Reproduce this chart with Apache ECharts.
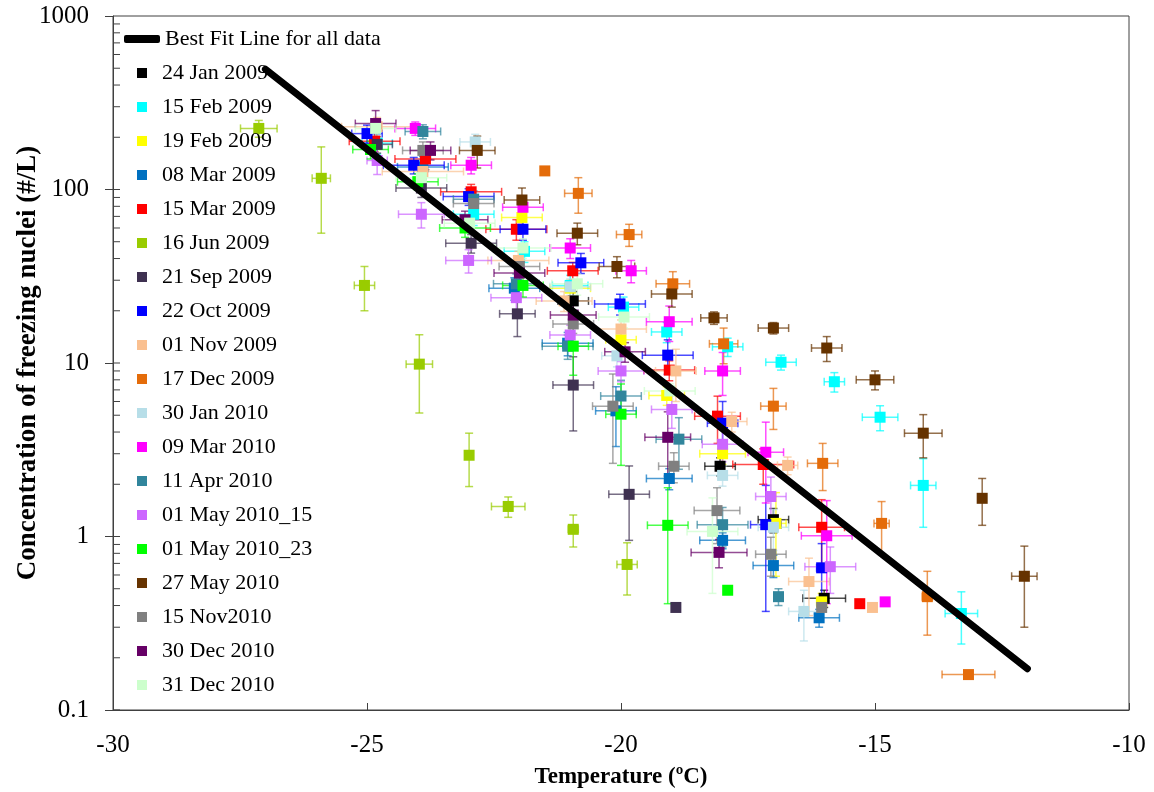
<!DOCTYPE html>
<html>
<head>
<meta charset="utf-8">
<script src="https://cdn.jsdelivr.net/npm/echarts@6/dist/echarts.min.js"></script>
<style>
  html, body { margin: 0; padding: 0; background: #fff; }
  #main { width: 1154px; height: 792px; }
</style>
</head>
<body>
<div id="main"></div>
<script>
// each point: [temperature, concentration, temperature error, concentration error]
const jan24_2009 = [[-20.94, 22.8, 0.3, 3], [-18.05, 2.54, 0.3, 0.3], [-17.0, 1.25, 0.3, 0.2], [-16.0, 0.44, 0.42, 0.05]];
const feb15_2009 = [[-24.8, 185, 0.3, 25], [-22.9, 72, 0.4, 10], [-21.9, 44, 0.4, 6], [-21.0, 28, 0.35, 4], [-19.95, 21, 0.3, 3],
  [-19.1, 15.1, 0.3, 2], [-17.9, 12.4, 0.3, 1.5], [-16.85, 10.1, 0.3, 1.0], [-15.8, 7.8, 0.2, 1.0], [-14.9, 4.87, 0.35, 0.8],
  [-14.05, 1.97, 0.25, 0.84], [-13.3, 0.36, 0.32, 0.12]];
const feb19_2009 = [[-21.95, 69, 0.4, 8], [-21.0, 27, 0.4, 3], [-20.0, 13.6, 0.3, 1.5], [-19.1, 6.5, 0.35, 0.8], [-18.0, 3.0, 0.45, 0.4],
  [-16.95, 1.19, 0.2, 0.6], [-16.05, 0.42, 0.1, 0.05]];
const mar08_2009 = [[-23.9, 135, 0.5, 20], [-22.1, 27, 0.5, 4], [-21.05, 13, 0.5, 2], [-20.1, 5.3, 0.4, 2], [-19.05, 2.16, 0.45, 0.3],
  [-18.0, 0.95, 0.45, 0.1], [-17.0, 0.68, 0.4, 0.1], [-16.1, 0.34, 0.4, 0.04]];
const mar15_2009 = [[-24.85, 190, 0.5, 25], [-23.85, 150, 0.6, 20], [-22.95, 97, 0.6, 10], [-22.06, 59, 0.6, 8], [-20.95, 34, 0.5, 4],
  [-19.05, 9.1, 0.5, 1.2], [-18.1, 4.94, 0.45, 1.5], [-17.2, 2.6, 0.6, 0.6], [-16.05, 1.13, 0.45, 0.5], [-15.3, 0.41, 0, 0]];
const jun16_2009 = [[-27.13, 225, 0.36, 25], [-25.9, 116, 0.18, 60], [-25.05, 28, 0.2, 8], [-23.97, 9.85, 0.26, 4.7], [-22.99, 2.94, 0.05, 1.0],
  [-22.22, 1.49, 0.33, 0.2], [-20.94, 1.1, 0.1, 0.23], [-19.88, 0.69, 0.2, 0.23]];
const sep21_2009 = [[-24.8, 182, 0.3, 20], [-23.93, 102, 0.5, 12], [-22.95, 49, 0.5, 6], [-22.04, 19.2, 0.35, 5], [-20.94, 7.46, 0.4, 3.4],
  [-19.84, 1.75, 0.4, 0.8], [-18.92, 0.39, 0, 0]];
const oct22_2009 = [[-25.0, 210, 0.3, 25], [-24.08, 138, 0.6, 15], [-23.0, 91, 0.5, 10], [-21.93, 59, 0.45, 8], [-20.79, 37.8, 0.45, 5],
  [-20.02, 21.9, 0.5, 3], [-19.08, 11.1, 0.5, 2.5], [-18.0, 4.5, 0.3, 1.5], [-17.15, 1.17, 0.3, 0.8], [-16.05, 0.66, 0.1, 0.25]];
const nov01_2009 = [[-24.8, 230, 0.7, 30], [-23.9, 127, 0.8, 15], [-22.02, 39, 0.6, 5], [-21.12, 22.8, 0.55, 3], [-20.0, 15.7, 0.5, 2],
  [-18.92, 9.0, 0.4, 3], [-17.82, 4.6, 0.3, 0.6], [-16.72, 2.57, 0.2, 0.3], [-16.3, 0.55, 0.4, 0.2], [-15.05, 0.39, 0, 0]];
const dec17_2009 = [[-21.5, 128, 0, 0], [-20.84, 95, 0.27, 22], [-19.84, 55, 0.25, 8], [-18.98, 28.6, 0.33, 5], [-17.98, 12.9, 0.28, 3],
  [-17.0, 5.64, 0.25, 1.5], [-16.03, 2.64, 0.3, 0.8], [-14.87, 1.19, 0.15, 0.4], [-13.97, 0.45, 0.1, 0.18], [-13.16, 0.16, 0.52, 0]];
const jan30_2010 = [[-22.87, 188, 0.3, 20], [-21.0, 27.5, 0.4, 3], [-20.08, 11, 0.3, 1.5], [-18.0, 2.25, 0.3, 0.3], [-17.0, 1.13, 0.3, 0.3],
  [-16.4, 0.37, 0.3, 0.12]];
const mar09_2010 = [[-24.05, 225, 0.4, 20], [-22.95, 138, 0.4, 15], [-21.93, 79, 0.4, 10], [-21.0, 46, 0.4, 6], [-19.8, 34, 0.3, 5],
  [-19.05, 17.3, 0.45, 4], [-18.0, 9.0, 0.35, 2.5], [-17.15, 3.06, 0.35, 1.5], [-15.95, 1.01, 0.5, 0.6], [-14.8, 0.42, 0, 0]];
const apr11_2010 = [[-23.9, 216, 0.35, 20], [-22.9, 88, 0.4, 10], [-22.06, 28.6, 0.45, 4], [-21.05, 12.5, 0.5, 2], [-20.0, 6.45, 0.4, 1.5],
  [-18.86, 3.64, 0.45, 1.2], [-18.0, 1.17, 0.5, 0.3], [-16.9, 0.45, 0, 0.05]];
const may01_2010_15 = [[-24.8, 147, 0.2, 25], [-23.93, 72, 0.45, 12], [-23.0, 39, 0.45, 6], [-22.06, 23.8, 0.5, 5], [-21.0, 14.5, 0.4, 2],
  [-20.0, 9.0, 0.45, 1.2], [-19.0, 5.4, 0.4, 1.2], [-18.0, 3.4, 0.4, 0.7], [-17.05, 1.7, 0.3, 0.5], [-15.88, 0.67, 0.5, 0.2]];
const may01_2010_23 = [[-24.93, 170, 0.35, 20], [-24.0, 111, 0.4, 12], [-23.07, 60, 0.5, 7], [-21.93, 28, 0.4, 4], [-20.94, 12.5, 0.3, 4],
  [-20.0, 5.07, 0.3, 2.5], [-19.08, 1.16, 0.4, 0.75], [-17.9, 0.49, 0, 0]];
const may27_2010 = [[-22.83, 168, 0.35, 35], [-21.95, 87, 0.35, 15], [-20.86, 56, 0.4, 8], [-20.08, 36, 0.35, 5], [-19.0, 25, 0.4, 4],
  [-18.17, 18.2, 0.26, 1.5], [-17.0, 15.9, 0.3, 1.2], [-15.95, 12.2, 0.3, 2], [-15.0, 8.0, 0.37, 1], [-14.05, 3.94, 0.37, 1.1],
  [-12.89, 1.66, 0, 0.5], [-12.06, 0.59, 0.25, 0.29]];
const nov15_2010 = [[-23.9, 168, 0.4, 20], [-22.9, 83, 0.4, 10], [-22.0, 36, 0.4, 5], [-20.94, 16.8, 0.4, 2], [-20.16, 5.64, 0.4, 3],
  [-18.96, 2.54, 0.3, 0.5], [-18.11, 1.41, 0.45, 0.5], [-17.05, 0.79, 0.3, 0.2], [-16.05, 0.39, 0, 0]];
const dec30_2010 = [[-24.83, 240, 0.4, 45], [-23.75, 168, 0.4, 20], [-23.07, 67, 0.45, 8], [-22.0, 33, 0.5, 5], [-20.94, 18.9, 0.45, 3],
  [-19.92, 11.6, 0.4, 1.5], [-19.08, 3.73, 0.45, 1.5], [-18.07, 0.81, 0.55, 0.15]];
const dec31_2010 = [[-24.83, 225, 0.4, 25], [-23.93, 117, 0.5, 15], [-22.98, 64, 0.5, 8], [-21.93, 46, 0.55, 6], [-20.86, 28.6, 0.5, 4],
  [-19.94, 18.4, 0.5, 2.5], [-19.04, 6.9, 0.5, 0.7], [-18.2, 1.07, 0.5, 0.6]];

const seriesNames = ['24 Jan 2009', '15 Feb 2009', '19 Feb 2009', '08 Mar 2009', '15 Mar 2009', '16 Jun 2009',
  '21 Sep 2009', '22 Oct 2009', '01 Nov 2009', '17 Dec 2009', '30 Jan 2010', '09 Mar 2010', '11 Apr 2010',
  '01 May 2010_15', '01 May 2010_23', '27 May 2010', '15 Nov2010', '30 Dec 2010', '31 Dec 2010'];
const seriesData = [jan24_2009, feb15_2009, feb19_2009, mar08_2009, mar15_2009, jun16_2009, sep21_2009, oct22_2009,
  nov01_2009, dec17_2009, jan30_2010, mar09_2010, apr11_2010, may01_2010_15, may01_2010_23, may27_2010,
  nov15_2010, dec30_2010, dec31_2010];
const seriesColors = ['#000000', '#00ffff', '#ffff00', '#0070c0', '#ff0000', '#99cc00', '#3f3151', '#0000ff',
  '#fac090', '#e46c0a', '#b7dee8', '#ff00ff', '#31859c', '#cc66ff', '#00ff00', '#663300', '#808080', '#660066', '#ccffcc'];

// best fit line end points
const fitName = 'Best Fit Line for all data';
const fitTemp = [-27, -12];
const fitConc = [494, 0.173];

// axis
const xTicks = [-30, -25, -20, -15, -10];
const yMin = 0.1, yMax = 1000;
const yMinorTicks = [];
for (let d = 0.1; d < yMax; d *= 10) {
  for (let k = 1; k <= 9; k++) yMinorTicks.push(+(d * k).toPrecision(3));
}

const FONT = 'Liberation Serif';

const chart = echarts.init(document.getElementById('main'));

// error bars, drawn with the axis scales
function errorBars(params, api) {
  const x = api.value(0), y = api.value(1), xe = api.value(2), ye = api.value(3);
  const color = api.visual('color');
  const cap = 4;
  const children = [];
  const style = { stroke: color, lineWidth: 1.5, opacity: 0.7 };
  if (xe > 0) {
    const a = api.coord([x - xe, y]), b = api.coord([x + xe, y]);
    children.push({ type: 'line', shape: { x1: a[0], y1: a[1], x2: b[0], y2: b[1] }, style: style });
    children.push({ type: 'line', shape: { x1: a[0], y1: a[1] - cap, x2: a[0], y2: a[1] + cap }, style: style });
    children.push({ type: 'line', shape: { x1: b[0], y1: b[1] - cap, x2: b[0], y2: b[1] + cap }, style: style });
  }
  if (ye > 0) {
    const top = api.coord([x, y + ye]);
    const low = api.coord([x, Math.max(y - ye, yMin)]);
    children.push({ type: 'line', shape: { x1: top[0], y1: top[1], x2: low[0], y2: low[1] }, style: style });
    children.push({ type: 'line', shape: { x1: top[0] - cap, y1: top[1], x2: top[0] + cap, y2: top[1] }, style: style });
    if (y - ye > yMin) {
      children.push({ type: 'line', shape: { x1: low[0] - cap, y1: low[1], x2: low[0] + cap, y2: low[1] }, style: style });
    }
  }
  return { type: 'group', children: children };
}

const series = [];
seriesNames.forEach(function (name, i) {
  series.push({
    name: name + ' err',
    type: 'custom',
    renderItem: errorBars,
    itemStyle: { color: seriesColors[i] },
    encode: { x: 0, y: 1 },
    data: seriesData[i],
    silent: true,
    z: 2
  });
});
seriesNames.forEach(function (name, i) {
  series.push({
    name: name,
    type: 'scatter',
    symbol: 'rect',
    symbolSize: 11,
    itemStyle: { color: seriesColors[i], opacity: 1 },
    data: seriesData[i].map(function (p) { return [p[0], p[1]]; }),
    z: 3
  });
});
series.push({
  name: fitName,
  type: 'line',
  symbol: 'none',
  lineStyle: { color: '#000', width: 7, cap: 'round' },
  itemStyle: { color: '#000' },
  data: fitTemp.map(function (t, i) { return [t, fitConc[i]]; }),
  z: 10
});
// inner minor ticks on the log axis
series.push({
  name: 'minor ticks',
  type: 'custom',
  silent: true,
  renderItem: function (params, api) {
    const p = api.coord([api.value(1), api.value(0)]);
    return { type: 'line', shape: { x1: p[0], y1: p[1], x2: p[0] + 7, y2: p[1] }, style: { stroke: '#404040', lineWidth: 1 } };
  },
  encode: { y: 0, x: 1 },
  data: yMinorTicks.map(function (v) { return [v, xTicks[0]]; }),
  z: 4
});

const option = {
  backgroundColor: '#fff',
  animation: false,
  textStyle: { fontFamily: FONT, color: '#000' },
  grid: {
    left: 113, right: 25, top: 16, bottom: 82,
    outerBoundsMode: 'none', containLabel: false,
    show: true, borderColor: '#404040', borderWidth: 1
  },
  legend: [
    {
      data: [{ name: fitName, icon: 'roundRect', itemStyle: { color: '#000' } }],
      orient: 'vertical',
      left: 119,
      top: 23,
      itemWidth: 36,
      itemHeight: 8,
      selectedMode: false,
      textStyle: { fontFamily: FONT, fontSize: 22, lineHeight: 22, color: '#000' }
    },
    {
      data: seriesNames,
      orient: 'vertical',
      left: 132,
      top: 57,
      itemWidth: 10,
      itemHeight: 10,
      itemGap: 12,
      selectedMode: false,
      textStyle: { fontFamily: FONT, fontSize: 22, lineHeight: 22, color: '#000', padding: [0, 0, 0, 10] }
    }
  ],
  xAxis: {
    type: 'value',
    min: xTicks[0],
    max: xTicks[xTicks.length - 1],
    interval: 5,
    name: 'Temperature (ºC)',
    nameLocation: 'middle',
    nameGap: 56,
    nameTextStyle: { fontFamily: FONT, fontSize: 23, fontWeight: 'bold', color: '#000' },
    axisLine: { lineStyle: { color: '#404040', width: 1 } },
    axisTick: { inside: true, length: 7, lineStyle: { color: '#404040' } },
    axisLabel: { fontFamily: FONT, fontSize: 25, color: '#000', margin: 23 },
    splitLine: { show: false }
  },
  yAxis: {
    type: 'log',
    logBase: 10,
    min: yMin,
    max: yMax,
    name: 'Concentration of freezing nuclei (#/L)',
    nameLocation: 'middle',
    nameGap: 71,
    nameMoveOverlap: false,
    nameTextStyle: { fontFamily: FONT, fontSize: 27, fontWeight: 'bold', color: '#000' },
    axisLine: { lineStyle: { color: '#404040', width: 1 } },
    axisTick: { inside: false, length: 8, lineStyle: { color: '#404040' } },
    axisLabel: {
      fontFamily: FONT, fontSize: 25, color: '#000', margin: 24,
      formatter: function (v) { return String(+v.toPrecision(3)); }
    },
    splitLine: { show: false }
  },
  series: series
};

chart.setOption(option);
</script>
</body>
</html>
